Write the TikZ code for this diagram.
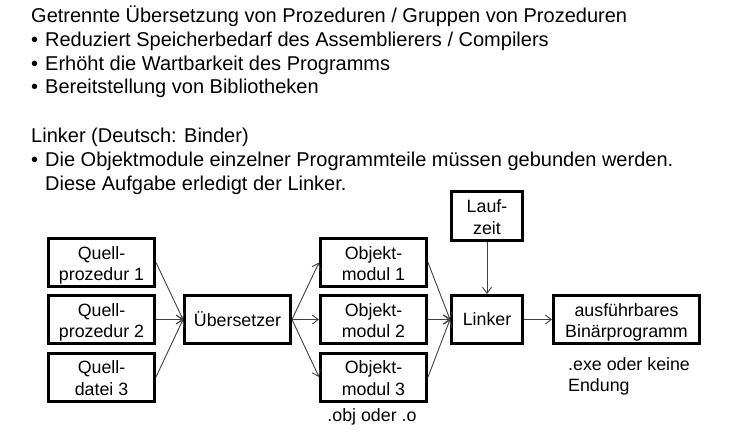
\documentclass[tikz,border=0pt]{standalone}
\usepackage{fontspec}
\setmainfont{Liberation Sans}
\usetikzlibrary{arrows.meta}
\newcommand{\bul}{\makebox[14pt][l]{•}}
\newcommand{\tp}{\rule{0pt}{19pt}}
\newcommand{\bt}{\rule[-4pt]{0pt}{4pt}}
\begin{document}
\begin{tikzpicture}[x=1pt,y=-1pt,
  txt/.style={anchor=base west,inner sep=0pt,font=\fontsize{20}{24}\selectfont},
  small/.style={anchor=base west,inner sep=0pt,font=\fontsize{17.8}{21.5}\selectfont},
  box/.style={draw,line width=3pt,align=center,inner sep=0pt,font=\fontsize{17.8}{21.5}\selectfont,minimum height=48pt},
  wbox/.style={box,minimum width=106pt},
  nbox/.style={box,minimum width=71pt},
  arr/.style={draw=black!75,line width=0.9pt,-{Straight Barb[length=6pt,width=9pt]}}]
\useasboundingbox (0,0) rectangle (735,434);
\node[txt] (t1) at (31,22.7) {Getrennte Übersetzung von Prozeduren / Gruppen von Prozeduren};
\node[txt] (t2) at (31,46) {\bul Reduziert Speicherbedarf des Assemblierers / Compilers};
\node[txt] (t3) at (31,70) {\bul Erhöht die Wartbarkeit des Programms};
\node[txt] (t4) at (31,93.5) {\bul Bereitstellung von Bibliotheken};
\node[txt] (t5) at (31,142) {Linker (Deutsch: Binder)};
\node[txt] (t6) at (31,166.5) {\bul Die Objektmodule einzelner Programmteile müssen gebunden werden.};
\node[txt] (t7) at (45,190) {Diese Aufgabe erledigt der Linker.};

\node[wbox] (q1) at (101.5,262.5) {\tp Quell-\\prozedur 1\bt};
\node[wbox] (q2) at (101.5,319.5) {\tp Quell-\\prozedur 2\bt};
\node[wbox] (q3) at (101.5,377) {\tp Quell-\\datei 3\bt};
\node[wbox] (ue) at (237.5,319.5) {Übersetzer};
\node[wbox] (o1) at (373.5,262.5) {\tp Objekt-\\modul 1\bt};
\node[wbox] (o2) at (373.5,319.5) {\tp Objekt-\\modul 2\bt};
\node[wbox] (o3) at (373.5,377) {\tp Objekt-\\modul 3\bt};
\node[nbox,minimum height=49pt] (lz) at (487,216) {\tp Lauf-\\zeit\bt};
\node[nbox] (li) at (487,319.5) {Linker};
\node[box,minimum width=146pt] (ex) at (626.5,319.5) {\tp ausführbares\\Binärprogramm\bt};

\node[small,anchor=base] (obj) at (372,421) {.obj oder .o};
\node[small,align=left,anchor=north west] (exe) at (568,357) {.exe oder keine\\Endung};

\draw[arr] (q1.east) -- (ue.west);
\draw[arr] (q2.east) -- (ue.west);
\draw[arr] (q3.east) -- (ue.west);
\draw[arr] (ue.east) -- (o1.west);
\draw[arr] (ue.east) -- (o2.west);
\draw[arr] (ue.east) -- (o3.west);
\draw[arr] (o1.east) -- (li.west);
\draw[arr] (o2.east) -- (li.west);
\draw[arr] (o3.east) -- (li.west);
\draw[arr] (lz.south) -- (li.north);
\draw[arr] (li.east) -- (ex.west);
\end{tikzpicture}
\end{document}
